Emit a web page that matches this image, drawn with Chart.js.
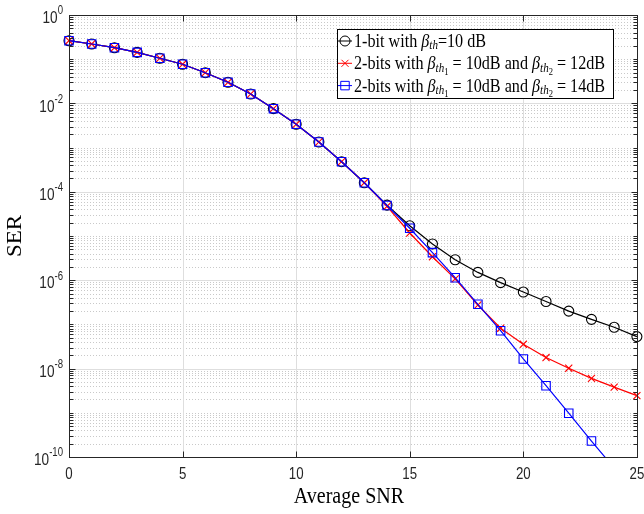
<!DOCTYPE html>
<html>
<head>
<meta charset="utf-8">
<script src="https://cdn.jsdelivr.net/npm/chart.js@4.4.0/dist/chart.umd.min.js"></script>
<style>
    html, body { margin: 0; padding: 0; background: #fff; }
    #wrap { width: 644px; height: 514px; position: relative; }
</style>
</head>
<body>
<div id="wrap"><canvas id="ser-chart"></canvas></div>
<script>
// values
const snr = [0, 1, 2, 3, 4, 5, 6, 7, 8, 9, 10, 11, 12, 13, 14, 15, 16, 17, 18, 19, 20, 21, 22, 23, 24, 25];
const ser1bit = [0.262, 0.221, 0.182, 0.143, 0.105, 0.0767, 0.0495, 0.030, 0.0163, 0.0076, 0.00337, 0.00134, 0.00048,
    1.6e-4, 5.0e-5, 1.7e-5, 6.6e-6, 2.9e-6, 1.5e-6, 8.8e-7, 5.4e-7, 3.3e-7, 2.0e-7, 1.3e-7, 8.6e-8, 5.3e-8];
const ser2bit12 = [0.262, 0.221, 0.182, 0.143, 0.105, 0.0767, 0.0495, 0.030, 0.0163, 0.0076, 0.00337, 0.00134, 0.00048,
    1.6e-4, 4.7e-5, 1.17e-5, 3.4e-6, 1.07e-6, 2.75e-7, 8.2e-8, 3.55e-8, 1.78e-8, 1.02e-8, 6.0e-9, 3.8e-9, 2.45e-9];
const ser2bit14 = [0.262, 0.221, 0.182, 0.143, 0.105, 0.0767, 0.0495, 0.030, 0.0163, 0.0076, 0.00337, 0.00134, 0.00048,
    1.6e-4, 4.9e-5, 1.5e-5, 4.2e-6, 1.14e-6, 2.85e-7, 7.2e-8, 1.65e-8, 4.1e-9, 9.8e-10, 2.3e-10, 5.6e-11, 1.3e-11];
const xTicks = [0, 5, 10, 15, 20, 25];
const yExponents = [0, -2, -4, -6, -8, -10];
const xTitle = 'Average SNR';
const yTitle = 'SER';

// legend rows as rich text pieces: 'n' normal, 'i' italic, 'sub', 'sub2'
const legendRows = [
    [['1-bit with ', 'n'], ['\u03b2', 'i'], ['th', 'sub'], ['=10 dB', 'n']],
    [['2-bits with ', 'n'], ['\u03b2', 'i'], ['th', 'sub'], ['1', 'sub2'], [' = 10dB and ', 'n'],
        ['\u03b2', 'i'], ['th', 'sub'], ['2', 'sub2'], [' = 12dB', 'n']],
    [['2-bits with ', 'n'], ['\u03b2', 'i'], ['th', 'sub'], ['1', 'sub2'], [' = 10dB and ', 'n'],
        ['\u03b2', 'i'], ['th', 'sub'], ['2', 'sub2'], [' = 14dB', 'n']],
];

const AXIS = '#262626';
const SANS = '"Liberation Sans", Arial, sans-serif';
const SERIF = '"Liberation Serif", "Times New Roman", serif';

const legendFonts = {
    n: { font: `19px ${SERIF}`, dy: 0 },
    i: { font: `italic 19px ${SERIF}`, dy: 0 },
    sub: { font: `italic 13px ${SERIF}`, dy: 4 },
    sub2: { font: `10px ${SERIF}`, dy: 8 },
};

// draws a list of [text, font, dy] pieces squeezed horizontally by sx
function drawPieces(ctx, pieces, x, y, sx, align) {
    let total = 0;
    pieces.forEach((p) => {
        ctx.font = p[1];
        total += ctx.measureText(p[0]).width;
    });
    const start = align === 'right' ? x - total * sx : align === 'center' ? x - (total * sx) / 2 : x;
    ctx.save();
    ctx.translate(start, y);
    ctx.scale(sx, 1);
    ctx.textAlign = 'left';
    ctx.textBaseline = 'middle';
    let cx = 0;
    pieces.forEach((p) => {
        ctx.font = p[1];
        ctx.fillText(p[0], cx, p[2]);
        cx += ctx.measureText(p[0]).width;
    });
    ctx.restore();
}

function hLine(ctx, x1, x2, y) {
    ctx.beginPath();
    ctx.moveTo(x1, y);
    ctx.lineTo(x2, y);
    ctx.stroke();
}

function vLine(ctx, x, y1, y2) {
    ctx.beginPath();
    ctx.moveTo(x, y1);
    ctx.lineTo(x, y2);
    ctx.stroke();
}

const matlabAxes = {
    id: 'matlabAxes',
    beforeDatasetsDraw(chart) {
        const { ctx, chartArea: a, scales: { x, y } } = chart;
        ctx.save();
        ctx.lineWidth = 1;
        // minor horizontal grid (dotted)
        ctx.strokeStyle = '#c9c9c9';
        ctx.setLineDash([1, 2]);
        for (let e = -10; e < 0; e++) {
            for (let m = 1; m <= 9; m++) {
                if (m === 1 && yExponents.includes(e)) continue;
                const py = Math.round(y.getPixelForValue(m * Math.pow(10, e))) + 0.5;
                hLine(ctx, a.left, a.right, py);
            }
        }
        ctx.setLineDash([]);
        // major grid
        ctx.strokeStyle = '#dedede';
        yExponents.forEach((e) => {
            if (e === 0 || e === -10) return;
            hLine(ctx, a.left, a.right, Math.round(y.getPixelForValue(Math.pow(10, e))) + 0.5);
        });
        xTicks.forEach((t) => {
            if (t === 0 || t === 25) return;
            vLine(ctx, Math.round(x.getPixelForValue(t)) + 0.5, a.top, a.bottom);
        });
        ctx.restore();
    },
    afterDatasetsDraw(chart) {
        const { ctx, chartArea: a, scales: { x, y } } = chart;
        ctx.save();
        ctx.lineWidth = 1;
        ctx.strokeStyle = AXIS;
        const L = Math.round(a.left) + 0.5;
        const R = Math.round(a.right) + 0.5;
        const T = Math.round(a.top) + 0.5;
        const B = Math.round(a.bottom) + 0.5;
        ctx.strokeRect(L, T, R - L, B - T);

        // y ticks, inside on both sides
        for (let e = -10; e <= 0; e++) {
            for (let m = 1; m <= 9; m++) {
                if (e === 0 && m > 1) break;
                const py = Math.round(y.getPixelForValue(m * Math.pow(10, e))) + 0.5;
                const len = m === 1 && yExponents.includes(e) ? 6 : 4;
                hLine(ctx, L, L + len, py);
                hLine(ctx, R - len, R, py);
            }
        }
        // x ticks, inside top and bottom
        xTicks.forEach((t) => {
            const px = Math.round(x.getPixelForValue(t)) + 0.5;
            vLine(ctx, px, B, B - 6);
            vLine(ctx, px, T, T + 6);
        });

        // tick labels
        ctx.fillStyle = '#262626';
        yExponents.forEach((e) => {
            const py = y.getPixelForValue(Math.pow(10, e));
            drawPieces(ctx, [['10', `17px ${SANS}`, 3.5], [String(e), `12px ${SANS}`, -4]], 63, py, 0.8, 'right');
        });
        xTicks.forEach((t) => {
            drawPieces(ctx, [[String(t), `17px ${SANS}`, 0]], x.getPixelForValue(t), 474, 0.78, 'center');
        });

        // axis titles
        ctx.fillStyle = '#000';
        drawPieces(ctx, [[xTitle, `23px ${SERIF}`, 0]], (a.left + a.right) / 2 - 4, 497, 0.87, 'center');
        ctx.save();
        ctx.translate(16, (a.top + a.bottom) / 2);
        ctx.scale(0.87, 1);
        ctx.rotate(-Math.PI / 2);
        ctx.font = `23px ${SERIF}`;
        ctx.textAlign = 'center';
        ctx.textBaseline = 'middle';
        ctx.fillText(yTitle, 0, 0);
        ctx.restore();

        // legend
        const box = { l: 337.5, t: 29.5, r: 613.5, b: 98.5 };
        ctx.fillStyle = '#fff';
        ctx.fillRect(box.l, box.t, box.r - box.l, box.b - box.t);
        ctx.strokeStyle = '#000';
        ctx.strokeRect(box.l, box.t, box.r - box.l, box.b - box.t);
        chart.data.datasets.forEach((ds, i) => {
            const ry = 41 + i * 22.3;
            ctx.strokeStyle = ds.borderColor;
            ctx.fillStyle = 'rgba(0,0,0,0)';
            ctx.lineWidth = 1;
            hLine(ctx, 338, 352, ry);
            Chart.helpers.drawPoint(ctx, {
                pointStyle: ds.pointStyle,
                radius: ds.pointRadius,
                borderWidth: 1,
                rotation: 0,
            }, 345, ry);
            ctx.fillStyle = '#000';
            const pieces = legendRows[i].map((p) => [p[0], legendFonts[p[1]].font, legendFonts[p[1]].dy]);
            drawPieces(ctx, pieces, 354, ry + 1, 0.85, 'left');
        });
        ctx.restore();
    },
};

const series = [
    { label: '1-bit', data: ser1bit, color: '#000000', style: 'circle', radius: 5, order: 3 },
    { label: '2-bits 12dB', data: ser2bit12, color: '#ff0000', style: 'crossRot', radius: 5, order: 2 },
    { label: '2-bits 14dB', data: ser2bit14, color: '#0000ff', style: 'rect', radius: 6, order: 1 },
];

const ctx = document.getElementById('ser-chart').getContext('2d');
const serChart = new Chart(ctx, {
    type: 'line',
    data: {
        datasets: series.map((s) => ({
            label: s.label,
            data: snr.map((v, i) => ({ x: v, y: s.data[i] })),
            borderColor: s.color,
            backgroundColor: 'transparent',
            borderWidth: 1.2,
            pointStyle: s.style,
            pointRadius: s.radius,
            pointBorderColor: s.color,
            pointBackgroundColor: 'transparent',
            pointBorderWidth: 1.1,
            tension: 0,
            order: s.order,
            clip: { left: 10, right: 10, top: 10, bottom: 0 },
        })),
    },
    options: {
        responsive: true,
        maintainAspectRatio: false,
        animation: false,
        events: [],
        layout: { padding: { left: 69, right: 7, top: 15, bottom: 57 } },
        scales: {
            x: { type: 'linear', min: 0, max: 25, display: false },
            y: { type: 'logarithmic', min: 1e-10, max: 1, display: false },
        },
        plugins: {
            legend: { display: false },
            tooltip: { enabled: false },
        },
    },
    plugins: [matlabAxes],
});
</script>
</body>
</html>
